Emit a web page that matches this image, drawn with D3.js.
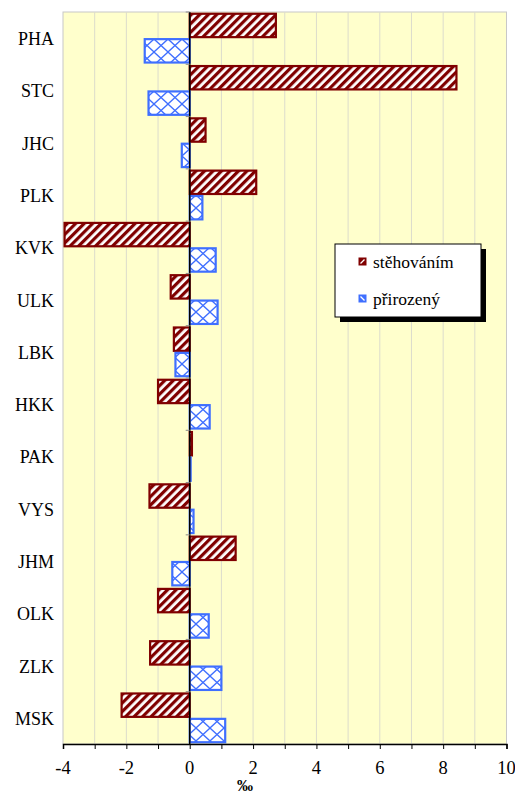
<!DOCTYPE html>
<html>
<head>
<meta charset="utf-8">
<script src="https://cdn.jsdelivr.net/npm/d3@7"></script>
<style>
  body { margin: 0; background: #fff; }
  svg { display: block; }
</style>
</head>
<body>
<svg width="515" height="796"></svg>
<script>
let svg = d3.select("svg");

let regions = ["PHA", "STC", "JHC", "PLK", "KVK", "ULK", "LBK", "HKK", "PAK", "VYS", "JHM", "OLK", "ZLK", "MSK"];
let migration = [2.72, 8.42, 0.5, 2.1, -3.95, -0.6, -0.5, -1.0, 0.07, -1.27, 1.45, -1.0, -1.25, -2.15];
let natural = [-1.42, -1.3, -0.25, 0.4, 0.82, 0.88, -0.45, 0.63, 0.03, 0.12, -0.55, 0.6, 1.0, 1.12];
let seriesNames = ["stěhováním", "přirozený"];
let xTicks = [-4, -2, 0, 2, 4, 6, 8, 10];

let plotLeft = 63, plotRight = 506.5, plotTop = 12, plotBottom = 744;
let font = "Liberation Serif";
let red = "#800000", blue = "#3f6fff";

let x = d3.scaleLinear().domain([-4, 10]).range([plotLeft, plotRight]);
let y = d3.scaleBand().domain(regions).range([plotTop, plotBottom]);
let ySub = d3.scaleBand().domain([0, 1]).range([0, y.bandwidth()]).paddingOuter(0.03);

let defs = svg.append("defs");
let stripes = defs.append("pattern")
    .attr("id", "stripes")
    .attr("patternUnits", "userSpaceOnUse")
    .attr("width", 6).attr("height", 6)
    .attr("patternTransform", "rotate(45)");
stripes.append("rect").attr("width", 6).attr("height", 6).attr("fill", "#fff");
stripes.append("rect").attr("x", 0).attr("width", 3.2).attr("height", 6).attr("fill", red);

let cross = defs.append("pattern")
    .attr("id", "cross")
    .attr("patternUnits", "userSpaceOnUse")
    .attr("width", 14).attr("height", 13);
cross.append("rect").attr("width", 14).attr("height", 13).attr("fill", "#fff");
cross.append("path")
    .attr("d", "M0,0 L14,13 M14,0 L0,13")
    .attr("stroke", blue).attr("stroke-width", 1.3).attr("fill", "none");

// plot background
svg.append("rect")
    .attr("x", plotLeft).attr("y", plotTop)
    .attr("width", plotRight - plotLeft).attr("height", plotBottom - plotTop)
    .attr("fill", "#ffffcc")
    .attr("stroke", "#c8c8c8").attr("stroke-width", 1);

// grid lines
svg.append("g").selectAll("line")
    .data(d3.range(-3, 10))
    .join("line")
    .attr("x1", d => x(d)).attr("x2", d => x(d))
    .attr("y1", plotTop).attr("y2", plotBottom)
    .attr("stroke", "#dcdccc").attr("stroke-width", 1);

// bars
let series = [
    { values: migration, fill: "url(#stripes)", stroke: red },
    { values: natural, fill: "url(#cross)", stroke: blue }
];
series.forEach((s, k) => {
    svg.append("g").selectAll("rect")
        .data(regions)
        .join("rect")
        .attr("x", (d, i) => x(Math.min(0, s.values[i])))
        .attr("y", d => y(d) + ySub(k) + 1)
        .attr("width", (d, i) => Math.abs(x(s.values[i]) - x(0)))
        .attr("height", ySub.bandwidth() - 2)
        .attr("fill", s.fill)
        .attr("stroke", s.stroke)
        .attr("stroke-width", 2.2);
});

// zero line
svg.append("line")
    .attr("x1", x(0)).attr("x2", x(0))
    .attr("y1", plotTop).attr("y2", plotBottom)
    .attr("stroke", "#000").attr("stroke-width", 1.5);

// category ticks at the zero line
svg.append("g").selectAll("line")
    .data(regions)
    .join("line")
    .attr("x1", x(0) - 4).attr("x2", x(0))
    .attr("y1", d => y(d)).attr("y2", d => y(d))
    .attr("stroke", "#888");

// category labels
svg.append("g").selectAll("text")
    .data(regions)
    .join("text")
    .attr("x", 54)
    .attr("y", d => y(d) + y.bandwidth() / 2 + 7)
    .attr("text-anchor", "end")
    .attr("font-family", font)
    .attr("font-size", 18)
    .text(d => d);

// x axis
let xAxis = svg.append("g")
    .attr("transform", `translate(0,${plotBottom})`)
    .call(d3.axisBottom(x).tickValues(d3.range(-4, 11)).tickSize(5).tickFormat(""));
xAxis.select(".domain").attr("stroke", "#000").attr("stroke-width", 1.5);
xAxis.selectAll(".tick line").attr("stroke", "#000");
svg.append("g").selectAll("text")
    .data(xTicks)
    .join("text")
    .attr("x", d => x(d))
    .attr("y", 774)
    .attr("text-anchor", "middle")
    .attr("font-family", font)
    .attr("font-size", 18.5)
    .text(d => d);

svg.append("text")
    .attr("x", 245).attr("y", 791)
    .attr("text-anchor", "middle")
    .attr("font-family", font)
    .attr("font-size", 16)
    .attr("font-weight", "bold")
    .text("‰");

// legend
let lg = svg.append("g").attr("transform", "translate(335,244)");
lg.append("rect").attr("x", 5).attr("y", 5).attr("width", 146).attr("height", 73).attr("fill", "#000");
lg.append("rect").attr("width", 146).attr("height", 73).attr("fill", "#fff").attr("stroke", "#000");
seriesNames.forEach((name, k) => {
    let yy = 24 + k * 37;
    lg.append("rect")
        .attr("x", 24).attr("y", yy - 10).attr("width", 7).attr("height", 7)
        .attr("fill", k === 0 ? red : blue)
        .attr("stroke", k === 0 ? red : blue);
    lg.append("path")
        .attr("d", k === 0 ? `M25.5,${yy - 4.5} L29.5,${yy - 8.5}` : `M25.5,${yy - 8.5} L29.5,${yy - 4.5}`)
        .attr("stroke", "#fff").attr("stroke-width", 1.3);
    lg.append("text")
        .attr("x", 38).attr("y", yy)
        .attr("font-family", font)
        .attr("font-size", 17.5)
        .text(name);
});
</script>
</body>
</html>
